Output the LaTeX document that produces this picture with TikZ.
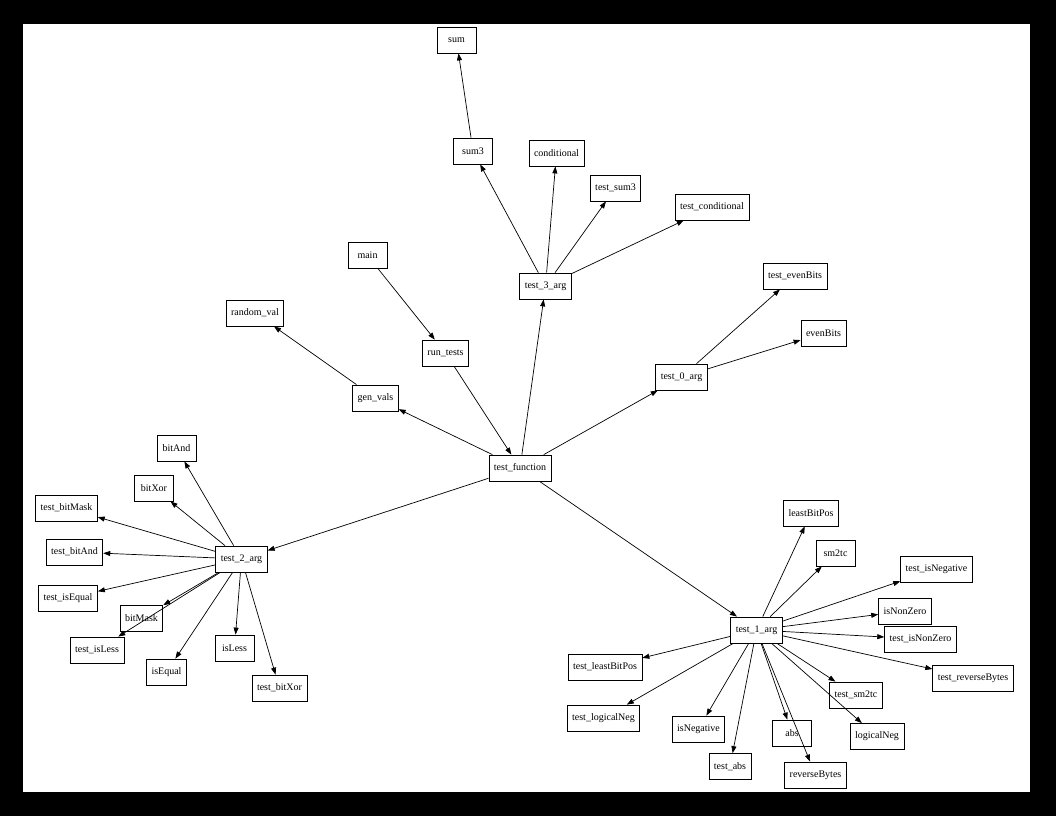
\documentclass[tikz,border=0pt]{standalone}
\usepackage{fontspec}
\setmainfont{Liberation Serif}
\usetikzlibrary{arrows.meta}
\tikzset{
  fn/.style={draw=black, line width=0.8pt, rectangle, minimum width=39pt, minimum height=26pt,
    inner xsep=5pt, inner ysep=2pt, font=\fontsize{10}{12}\selectfont},
  call/.style={draw=black, line width=0.7pt, -{Triangle[length=7pt,width=5pt]}}
}
\begin{document}
\begin{tikzpicture}[x=1pt,y=-1pt]
\fill[black] (0,0) rectangle (1056,816);
\fill[white] (23,24) rectangle (1030,792);
\useasboundingbox (0,0) rectangle (1056,816);
% nodes
\node[fn] (sum) at (456.5,40) {sum};
\node[fn] (sumthree) at (473,151) {sum3};
\node[fn] (conditional) at (556.5,153) {conditional};
\node[fn] (testsumthree) at (615.5,188) {test\_sum3};
\node[fn] (testconditional) at (712,207) {test\_conditional};
\node[fn] (main) at (367.5,255.5) {main};
\node[fn] (testthree) at (545.5,286) {test\_3\_arg};
\node[fn] (randomval) at (255,313) {random\_val};
\node[fn] (runtests) at (445.5,353) {run\_tests};
\node[fn] (genvals) at (375.5,398) {gen\_vals};
\node[fn] (testfunction) at (520,468) {test\_function};
\node[fn] (testevenbits) at (795,276) {test\_evenBits};
\node[fn] (evenbits) at (823.5,333) {evenBits};
\node[fn] (testzero) at (681.5,377) {test\_0\_arg};
\node[fn] (bitand) at (176.5,448) {bitAnd};
\node[fn] (bitxor) at (154,488) {bitXor};
\node[fn] (testbitmask) at (66.5,508) {test\_bitMask};
\node[fn] (testbitand) at (74.5,552) {test\_bitAnd};
\node[fn] (testtwo) at (241.5,559) {test\_2\_arg};
\node[fn] (testisequal) at (68,598) {test\_isEqual};
\node[fn] (bitmask) at (141.5,618) {bitMask};
\node[fn] (testisless) at (97,650) {test\_isLess};
\node[fn] (isless) at (234.5,648) {isLess};
\node[fn] (isequal) at (166.5,672) {isEqual};
\node[fn] (testbitxor) at (279.5,688) {test\_bitXor};
\node[fn] (leastbitpos) at (811,513) {leastBitPos};
\node[fn] (smtc) at (835.5,553) {sm2tc};
\node[fn] (testisnegative) at (936.5,569) {test\_isNegative};
\node[fn] (isnonzero) at (905,611) {isNonZero};
\node[fn] (testone) at (756.5,630) {test\_1\_arg};
\node[fn] (testisnonzero) at (920.5,639) {test\_isNonZero};
\node[fn] (testleastbitpos) at (605,667) {test\_leastBitPos};
\node[fn] (testreversebytes) at (973,678) {test\_reverseBytes};
\node[fn] (testsmtc) at (856,695) {test\_sm2tc};
\node[fn] (testlogicalneg) at (603.5,718) {test\_logicalNeg};
\node[fn] (isnegative) at (698.5,729) {isNegative};
\node[fn] (abs) at (792,733) {abs};
\node[fn] (logicalneg) at (877,736.5) {logicalNeg};
\node[fn] (testabs) at (730,766.5) {test\_abs};
\node[fn] (reversebytes) at (815.5,775) {reverseBytes};
% edges
\draw[call] (sumthree) -- (sum);
\draw[call] (testthree) -- (sumthree);
\draw[call] (testthree) -- (conditional);
\draw[call] (testthree) -- (testsumthree);
\draw[call] (testthree) -- (testconditional);
\draw[call] (main) -- (runtests);
\draw[call] (runtests) -- (testfunction);
\draw[call] (genvals) -- (randomval);
\draw[call] (testfunction) -- (genvals);
\draw[call] (testfunction) -- (testthree);
\draw[call] (testfunction) -- (testzero);
\draw[call] (testfunction) -- (testtwo);
\draw[call] (testfunction) -- (testone);
\draw[call] (testzero) -- (testevenbits);
\draw[call] (testzero) -- (evenbits);
\draw[call] (testtwo) -- (bitand);
\draw[call] (testtwo) -- (bitxor);
\draw[call] (testtwo) -- (testbitmask);
\draw[call] (testtwo) -- (testbitand);
\draw[call] (testtwo) -- (testisequal);
\draw[call] (testtwo) -- (bitmask);
\draw[call] (testtwo) -- (testisless);
\draw[call] (testtwo) -- (isequal);
\draw[call] (testtwo) -- (isless);
\draw[call] (testtwo) -- (testbitxor);
\draw[call] (testone) -- (leastbitpos);
\draw[call] (testone) -- (smtc);
\draw[call] (testone) -- (testisnegative);
\draw[call] (testone) -- (isnonzero);
\draw[call] (testone) -- (testisnonzero);
\draw[call] (testone) -- (testreversebytes);
\draw[call] (testone) -- (testsmtc);
\draw[call] (testone) -- (logicalneg);
\draw[call] (testone) -- (reversebytes);
\draw[call] (testone) -- (abs);
\draw[call] (testone) -- (testabs);
\draw[call] (testone) -- (isnegative);
\draw[call] (testone) -- (testlogicalneg);
\draw[call] (testone) -- (testleastbitpos);
\end{tikzpicture}
\end{document}
